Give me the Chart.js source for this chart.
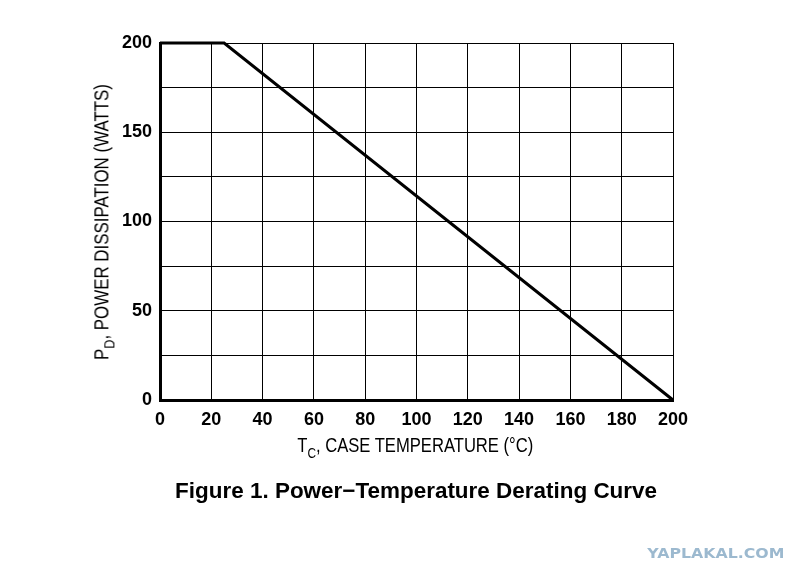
<!DOCTYPE html>
<html>
<head>
<meta charset="utf-8">
<script src="https://cdn.jsdelivr.net/npm/chart.js@4/dist/chart.umd.min.js"></script>
<style>
  html, body { margin:0; padding:0; background:#fff; }
  #wrap { position:relative; width:811px; height:583px; overflow:hidden; }
  #c { position:absolute; left:0; top:0; }
  .t { position:absolute; font-family:"Liberation Sans",Arial,sans-serif; color:#000; white-space:nowrap; line-height:1; }
  #xt { font-size:21px; }
  #yt { font-size:20px; }
  #ft { font-weight:bold; font-size:22px; }
  #wm { font-family:"DejaVu Sans","Liberation Sans",sans-serif; font-weight:bold; font-size:14px; color:#9cb9cf; }
  sub { font-size:15px; vertical-align:-6px; line-height:0; }
</style>
</head>
<body>
<div id="wrap">
  <canvas id="c" width="811" height="583"></canvas>
  <div class="t" id="xt">T<sub>C</sub>, CASE TEMPERATURE (°C)</div>
  <div class="t" id="yt">P<sub>D</sub>, POWER DISSIPATION (WATTS)</div>
  <div class="t" id="ft">Figure 1. Power−Temperature Derating Curve</div>
  <div class="t" id="wm">YAPLAKAL.COM</div>
</div>
<script>
const caseTemp = [0, 25, 200];
const powerDissipation = [200, 200, 0];
const xTickLabels = [0, 20, 40, 60, 80, 100, 120, 140, 160, 180, 200];
const yTickLabels = [0, 50, 100, 150, 200];

const points = caseTemp.map((t, i) => ({ x: t, y: powerDissipation[i] }));
const tickFont = { family: '"Liberation Sans",Arial,sans-serif', size: 18, weight: 'bold' };

new Chart(document.getElementById('c'), {
  type: 'scatter',
  data: {
    datasets: [{
      data: points,
      showLine: true,
      borderColor: '#000',
      borderWidth: 3,
      pointRadius: 0,
      fill: false,
      tension: 0,
      clip: false
    }]
  },
  options: {
    responsive: false,
    animation: false,
    devicePixelRatio: 1,
    layout: { padding: { left: 0, top: 43, right: 138, bottom: 0 } },
    plugins: { legend: { display: false }, tooltip: { enabled: false } },
    scales: {
      x: {
        type: 'linear', min: 0, max: 200,
        afterFit: s => { s.height = 183; },
        ticks: {
          stepSize: 20, color: '#000', font: tickFont, padding: 9,
          maxRotation: 0, autoSkip: false,
          callback: v => xTickLabels.includes(v) ? String(v) : ''
        },
        grid: { color: '#000', lineWidth: 1, drawTicks: false },
        border: { display: true, color: '#000', width: 3 }
      },
      y: {
        type: 'linear', min: 0, max: 200,
        afterFit: s => { s.width = 160; },
        ticks: {
          stepSize: 25, color: '#000', font: tickFont, padding: 8,
          callback: v => yTickLabels.includes(v) ? String(v) : ''
        },
        grid: { color: '#000', lineWidth: 1, drawTicks: false },
        border: { display: true, color: '#000', width: 3 }
      }
    }
  }
});

// place text blocks: centre (cx, cy), target width, rotation
function place(id, cx, cy, w, rot) {
  const el = document.getElementById(id);
  const r = el.getBoundingClientRect();
  const sx = w / r.width;
  el.style.left = (cx - r.width / 2) + 'px';
  el.style.top = (cy - r.height / 2) + 'px';
  el.style.transformOrigin = '50% 50%';
  el.style.transform = (rot ? 'rotate(' + rot + 'deg) ' : '') + 'scaleX(' + sx + ')';
}
place('xt', 415, 444, 236, 0);
place('yt', 101, 222, 276, -90);
place('ft', 416, 491, 482, 0);
place('wm', 716, 553, 137, 0);
</script>
</body>
</html>
